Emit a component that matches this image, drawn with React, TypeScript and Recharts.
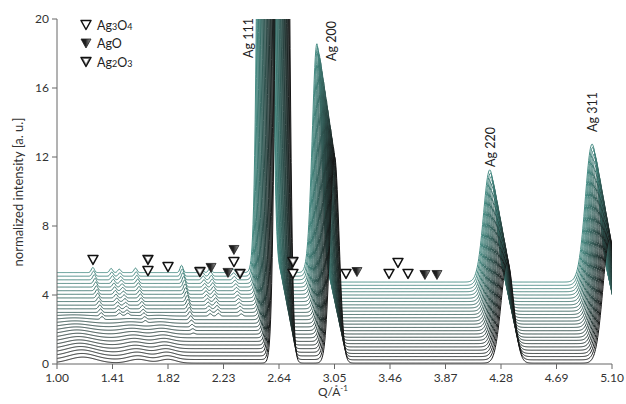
import { LineChart, Line, XAxis, YAxis, ReferenceDot } from 'recharts';

const Q_TICKS = [1.0, 1.41, 1.82, 2.23, 2.64, 3.05, 3.46, 3.87, 4.28, 4.69, 5.1];
const I_TICKS = [0, 4, 8, 12, 16, 20];

// scans, index 0 = first scan (front, black) ... last = back (teal)
const OFFSETS = [0.05, 0.24, 0.43, 0.61, 0.8, 0.99, 1.18, 1.37, 1.55, 1.74, 1.93, 2.12, 2.31,
  2.49, 2.68, 2.87, 3.06, 3.25, 3.43, 3.62, 3.81, 4.0, 4.19, 4.37, 4.56, 4.75];
const SHIFTS = [0.13, 0.125, 0.12, 0.114, 0.109, 0.104, 0.099, 0.094, 0.088, 0.083, 0.078, 0.073,
  0.068, 0.062, 0.057, 0.052, 0.047, 0.042, 0.036, 0.031, 0.026, 0.021, 0.016, 0.01, 0.005, 0];
// extra background below ~3 Å-1
const LOWQ_LIFT = [0, 0.02, 0.04, 0.07, 0.09, 0.11, 0.13, 0.15, 0.18, 0.2, 0.22, 0.24, 0.26,
  0.29, 0.31, 0.33, 0.35, 0.37, 0.4, 0.42, 0.44, 0.46, 0.48, 0.51, 0.53, 0.55];

// Ag reflections (positions as seen on the last scan)
const AG_NAMES = ['Ag 111', 'Ag 200', 'Ag 220', 'Ag 311'];
const AG_POS = [2.535, 2.92, 4.197, 4.953];
const AG_HEIGHT = [90, 13.3, 6.5, 8.0];
const AG_WIDTH = [0.033, 0.034, 0.046, 0.05];
const AG_SCALE = [0.9, 0.9, 0.91, 0.91, 0.92, 0.92, 0.93, 0.93, 0.94, 0.94, 0.95, 0.95, 0.96,
  0.96, 0.97, 0.97, 0.98, 0.98, 0.99, 0.99, 1, 1, 1, 1, 1, 1];

// sharp oxide reflections growing in the later scans
const OX_POS = [1.265, 1.4, 1.46, 1.58, 1.92, 2.07, 2.13, 2.3];
const OX_HEIGHT = [0.3, 0.24, 0.2, 0.26, 0.42, 0.22, 0.26, 0.2];
const OX_FROM = [12, 13, 13, 11, 8, 13, 13, 13];
const OX_SCALE = [0, 0, 0, 0, 0, 0, 0, 0, 0.15, 0.25, 0.35, 0.45, 0.55, 0.62, 0.7, 0.76, 0.82,
  0.86, 0.9, 0.93, 0.95, 0.97, 0.98, 1, 1, 1];

// broad humps of the first scans
const HUMP_POS = [1.06, 1.47, 1.69];
const HUMP_HEIGHT = [0.35, 0.22, 0.22];
const HUMP_WIDTH = [0.1, 0.07, 0.06];
const HUMP_SCALE = [1, 1, 1, 0.95, 0.9, 0.85, 0.8, 0.75, 0.7, 0.6, 0.5, 0.4, 0.3, 0.2, 0, 0, 0,
  0, 0, 0, 0, 0, 0, 0, 0, 0];

// phase markers
const MARK_Q = [1.266, 1.672, 1.672, 1.82, 2.056, 2.138, 2.263, 2.307, 2.307, 2.352, 2.743, 2.743,
  3.135, 3.216, 3.453, 3.519, 3.593, 3.718, 3.807];
const MARK_I = [6.03, 6.03, 5.39, 5.62, 5.33, 5.57, 5.28, 6.61, 5.91, 5.22, 5.91, 5.22, 5.22,
  5.33, 5.22, 5.86, 5.22, 5.16, 5.16];
const MARK_KIND = ['Ag3O4', 'Ag2O3', 'Ag3O4', 'Ag3O4', 'Ag2O3', 'AgO', 'AgO', 'AgO', 'Ag3O4',
  'Ag2O3', 'Ag2O3', 'Ag3O4', 'Ag3O4', 'AgO', 'Ag3O4', 'Ag3O4', 'Ag3O4', 'AgO', 'AgO'];

const gauss = (q: number, c: number, w: number) => Math.exp(-0.5 * ((q - c) / w) ** 2);

function buildTrace(i: number) {
  const rows: { x: number; y: number }[] = [];
  for (let n = 0; n <= 1100; n++) {
    const q = 0.8 + n * 0.004;
    let y = OFFSETS[i] + LOWQ_LIFT[i] / (1 + Math.exp((q - 2.96) / 0.015));
    AG_POS.forEach((c, k) => { y += AG_HEIGHT[k] * AG_SCALE[i] * gauss(q, c, AG_WIDTH[k]); });
    OX_POS.forEach((c, k) => {
      if (i >= OX_FROM[k]) y += OX_HEIGHT[k] * OX_SCALE[i] * gauss(q, c, 0.011);
    });
    HUMP_POS.forEach((c, k) => { y += HUMP_SCALE[i] * HUMP_HEIGHT[k] * gauss(q, c, HUMP_WIDTH[k]); });
    rows.push({ x: q + SHIFTS[i], y });
  }
  return rows;
}

function traceColor(i: number) {
  const t = i / (OFFSETS.length - 1);
  const r = Math.round(22 + (70 - 22) * t);
  const g = Math.round(22 + (140 - 22) * t);
  const b = Math.round(22 + (132 - 22) * t);
  return `rgb(${r},${g},${b})`;
}

function Tri({ cx, cy, kind }: { cx: number; cy: number; kind: string }) {
  const p = `M${cx - 5},${cy - 4.5} L${cx + 5},${cy - 4.5} L${cx},${cy + 4.5} Z`;
  const inner = `M${cx - 2.4},${cy - 2.9} L${cx + 2.4},${cy - 2.9} L${cx},${cy + 1.5} Z`;
  if (kind === 'AgO') {
    return <path d={p} fill="url(#agoGrad)" stroke="#222" strokeWidth={0.8} strokeLinejoin="round" />;
  }
  return (
    <g>
      <path d={p} fill={kind === 'Ag2O3' ? '#8f8f8f' : '#fff'} stroke="#111" strokeWidth={1.5} strokeLinejoin="round" />
      <path d={inner} fill="#fff" stroke="none" />
    </g>
  );
}

const LEGEND = [
  { kind: 'Ag3O4', parts: [['Ag', false], ['3', true], ['O', false], ['4', true]] },
  { kind: 'AgO', parts: [['AgO', false]] },
  { kind: 'Ag2O3', parts: [['Ag', false], ['2', true], ['O', false], ['3', true]] },
];

const AG_LABEL_POS = [[248, 38], [331, 41], [490, 147], [592, 112]];

export default function App() {
  const order = OFFSETS.map((_, i) => OFFSETS.length - 1 - i);
  return (
    <div style={{ position: 'absolute', left: 0, top: 0, width: 626, height: 404, background: '#fff', fontFamily: 'Lato, sans-serif' }}>
      <svg width={0} height={0} style={{ position: 'absolute' }}>
        <defs>
          <linearGradient id="agoGrad" x1="0" y1="0" x2="1" y2="0">
            <stop offset="0%" stopColor="#111" />
            <stop offset="45%" stopColor="#222" />
            <stop offset="100%" stopColor="#a0a0a0" />
          </linearGradient>
        </defs>
      </svg>
      <LineChart width={626} height={404} margin={{ top: 19, right: 14, bottom: 0, left: 0 }}>
        <XAxis
          type="number"
          dataKey="x"
          domain={[1, 5.1]}
          ticks={Q_TICKS}
          interval={0}
          allowDataOverflow
          height={40}
          tickSize={5}
          tickMargin={4}
          stroke="#666"
          tick={{ fill: '#333', fontSize: 12 }}
          tickFormatter={(v: number) => v.toFixed(2)}
        />
        <YAxis
          type="number"
          domain={[0, 20]}
          ticks={I_TICKS}
          interval={0}
          allowDataOverflow
          width={57}
          tickSize={5}
          tickMargin={3}
          stroke="#666"
          tick={{ fill: '#333', fontSize: 12 }}
        />
        {order.map((i) => (
          <Line
            key={i}
            data={buildTrace(i)}
            dataKey="y"
            type="linear"
            stroke={traceColor(i)}
            strokeWidth={1}
            dot={false}
            activeDot={false}
            isAnimationActive={false}
          />
        ))}
        {MARK_Q.map((q, k) => (
          <ReferenceDot
            key={`m${k}`}
            x={q}
            y={MARK_I[k]}
            r={5}
            shape={(p: any) => <Tri cx={p.cx} cy={p.cy} kind={MARK_KIND[k]} />}
          />
        ))}
      </LineChart>
      <svg width={626} height={404} style={{ position: 'absolute', left: 0, top: 0, pointerEvents: 'none' }}>
        {LEGEND.map((l, k) => (
          <g key={l.kind}>
            <Tri cx={86} cy={25 + k * 18.5} kind={l.kind} />
            <text x={97} y={29.5 + k * 18.5} fontSize={12.5} fill="#222">
              {l.parts.map(([s, sub], j) => (
                <tspan key={j} fontSize={sub ? 9 : 12.5}>{s as string}</tspan>
              ))}
            </text>
          </g>
        ))}
        {AG_NAMES.map((name, k) => (
          <text
            key={name}
            x={AG_LABEL_POS[k][0]}
            y={AG_LABEL_POS[k][1]}
            fontSize={12.5}
            fill="#222"
            textAnchor="middle"
            dominantBaseline="central"
            transform={`rotate(-90 ${AG_LABEL_POS[k][0]} ${AG_LABEL_POS[k][1]})`}
          >
            {name}
          </text>
        ))}
        <text x={18} y={192} fontSize={13} fill="#333" textAnchor="middle" dominantBaseline="central" transform="rotate(-90 18 192)">
          normalized intensity [a. u.]
        </text>
        <text x={333} y={396} fontSize={12} fill="#333" textAnchor="middle">
          Q/Å<tspan fontSize={8} dy={-5}>-1</tspan>
        </text>
      </svg>
    </div>
  );
}
